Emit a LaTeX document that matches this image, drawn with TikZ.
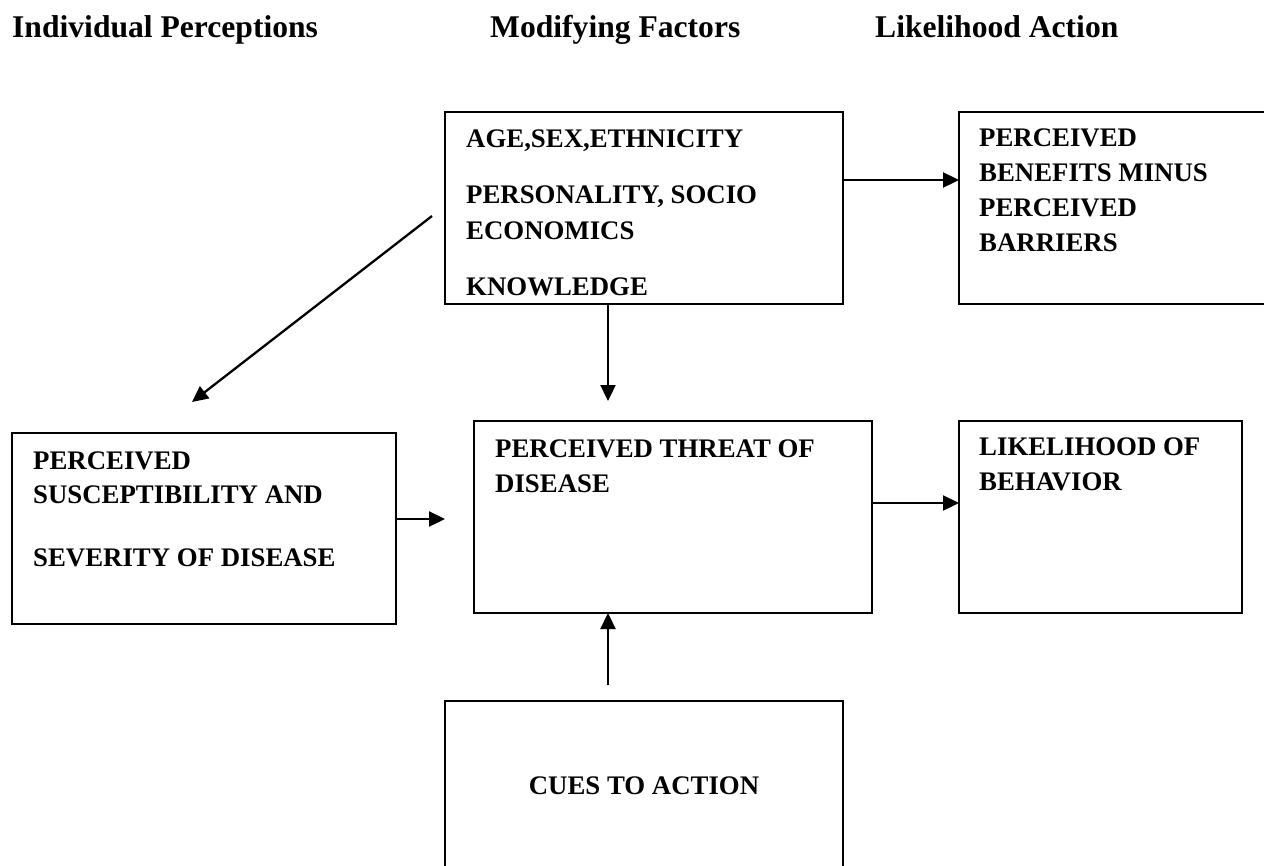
\documentclass[tikz,border=0pt]{standalone}
\usepackage{fontspec}
\setmainfont{Liberation Serif}
\usetikzlibrary{arrows.meta}
\begin{document}
\begin{tikzpicture}[x=1pt,y=-1pt,
  box/.style={draw=black,line width=2.3pt,rectangle,inner sep=0pt,outer sep=0pt},
  arr/.style={line width=2.3pt,-{Triangle[length=16pt,width=15pt]}},
  body/.style={inner sep=0pt,anchor=base west,font=\bfseries\fontsize{26.8pt}{32pt}\selectfont},
  head/.style={inner sep=0pt,anchor=base west,font=\bfseries\fontsize{31.6pt}{38pt}\selectfont}]
\fill[white] (0,0) rectangle (1264,865);
\useasboundingbox (0,0) rectangle (1264,865);

% headers
\node[head] (h1) at (12,37) {Individual Perceptions};
\node[head] (h2) at (490,37) {Modifying Factors};
\node[head] (h3) at (875,37) {Likelihood Action};

% boxes
\node[box,minimum width=398pt,minimum height=192pt] (mod) at (644,208) {};
\node[box,minimum width=321pt,minimum height=192pt] (ben) at (1119.5,208) {};
\node[box,minimum width=384pt,minimum height=191pt] (sus) at (204,528.5) {};
\node[box,minimum width=398pt,minimum height=192pt] (threat) at (673,517) {};
\node[box,minimum width=283pt,minimum height=192pt] (like) at (1100.5,517) {};
\node[box,minimum width=398pt,minimum height=199pt] (cues) at (644,800.5) {};

% texts
\node[body] (m1) at (466,147) {AGE,SEX,ETHNICITY};
\node[body] (m2) at (466,203) {PERSONALITY, SOCIO};
\node[body] (m3) at (466,239) {ECONOMICS};
\node[body] (m4) at (466,295) {KNOWLEDGE};

\node[body] (b1) at (979,146) {PERCEIVED};
\node[body] (b2) at (979,181) {BENEFITS MINUS};
\node[body] (b3) at (979,216) {PERCEIVED};
\node[body] (b4) at (979,251) {BARRIERS};

\node[body] (s1) at (33,469) {PERCEIVED};
\node[body] (s2) at (33,503) {SUSCEPTIBILITY AND};
\node[body] (s3) at (33,566) {SEVERITY OF DISEASE};

\node[body] (p1) at (495,457) {PERCEIVED THREAT OF};
\node[body] (p2) at (495,492) {DISEASE};

\node[body] (l1) at (979,455) {LIKELIHOOD OF};
\node[body] (l2) at (979,490) {BEHAVIOR};

\node[body,anchor=base] (c1) at (644,794) {CUES TO ACTION};

% connectors
\coordinate (a1) at (445,519);
\coordinate (a2) at (608,401);
\coordinate (a3) at (608,685);
\coordinate (d1) at (432,216);
\coordinate (d2) at (192,402);

\draw[arr] ([yshift=28pt]mod.east) -- ([yshift=28pt]ben.west);
\draw[arr] ([yshift=14pt]threat.east) -- ([yshift=14pt]like.west);
\draw[arr] (sus.east |- a1) -- (a1);
\draw[arr] (mod.south -| a2) -- (a2);
\draw[arr] (a3) -- (threat.south -| a3);
\draw[arr] (d1) -- (d2);
\end{tikzpicture}
\end{document}
